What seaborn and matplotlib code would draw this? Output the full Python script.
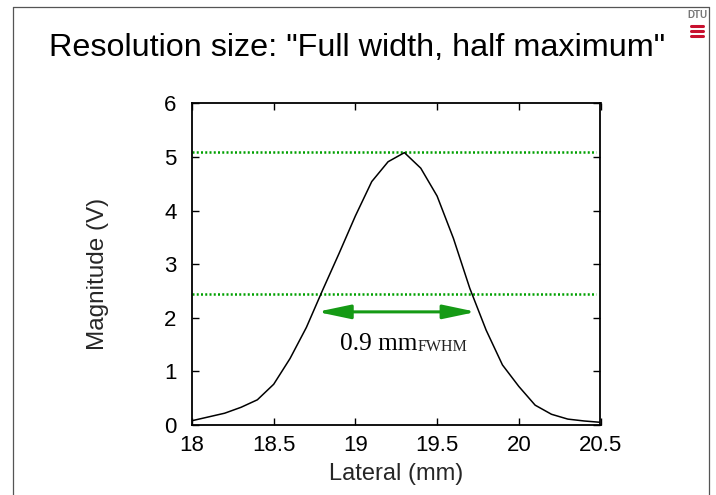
import numpy as np
import pandas as pd
import matplotlib
matplotlib.use("Agg")
import matplotlib.pyplot as plt
from matplotlib.lines import Line2D
import seaborn as sns

# ---- data ----
lateral_mm = [18.0, 18.1, 18.2, 18.3, 18.4, 18.5, 18.6, 18.7, 18.8, 18.9,
              19.0, 19.1, 19.2, 19.3, 19.4, 19.5, 19.6, 19.7, 19.8, 19.9,
              20.0, 20.1, 20.2, 20.3, 20.4, 20.5]
magnitude_v = [0.08, 0.15, 0.22, 0.33, 0.47, 0.76, 1.24, 1.82, 2.52, 3.20,
               3.90, 4.54, 4.91, 5.08, 4.79, 4.27, 3.48, 2.55, 1.77, 1.12,
               0.72, 0.37, 0.20, 0.11, 0.075, 0.05]
max_level = 5.09
half_level = 2.45
fwhm_left = 18.765
fwhm_right = 19.74
arrow_level = 2.11
x_ticks = [18, 18.5, 19, 19.5, 20, 20.5]
x_tick_labels = ["18", "18.5", "19", "19.5", "20", "20.5"]
y_ticks = [0, 1, 2, 3, 4, 5, 6]

df = pd.DataFrame({"Lateral (mm)": lateral_mm, "Magnitude (V)": magnitude_v})

sns.set_theme(style="ticks")
plt.rcParams["font.family"] = ["Liberation Sans", "DejaVu Sans"]

fig = plt.figure(figsize=(7.16, 4.95), dpi=100)
fig.patch.set_facecolor("white")
ax = fig.add_axes([192/716, 1-425/495, (600.5-192)/716, (425-103.3)/495])
ax.set_facecolor("white")

sns.lineplot(data=df, x="Lateral (mm)", y="Magnitude (V)", ax=ax,
             color="black", linewidth=1.1, zorder=3)

green_dot = "#00a000"
ax.plot([18.0, 20.47], [max_level, max_level], color=green_dot, lw=1.8,
        linestyle=(0, (0.8, 0.9)), zorder=2)
ax.plot([18.0, 20.47], [half_level, half_level], color=green_dot, lw=1.8,
        linestyle=(0, (0.8, 0.9)), zorder=2)

ax.annotate("", xy=(fwhm_left, arrow_level), xytext=(fwhm_right, arrow_level),
            arrowprops=dict(arrowstyle="<|-|>,head_length=2.0,head_width=0.42",
                            color="#159a15", lw=2.2, mutation_scale=10,
                            shrinkA=0, shrinkB=0), zorder=4)

t1 = ax.text(18.905, 1.40, "0.9 mm", fontsize=18.3, family=["Liberation Serif"],
             ha="left", va="baseline", color="black")
ax.annotate("FWHM", xy=(1, 0), xycoords=t1, fontsize=11.5,
            family=["Liberation Serif"], ha="left", va="bottom", color="#222222")

ax.set_xlim(18, 20.5)
ax.set_ylim(0, 6)
ax.set_xticks(x_ticks)
ax.set_xticklabels(x_tick_labels)
ax.set_yticks(y_ticks)
ax.tick_params(direction="in", length=5, width=1.0, top=True, right=True,
               labelsize=16, colors="black")
ax.tick_params(axis="x", pad=7)
ax.tick_params(axis="y", pad=11)
for s in ax.spines.values():
    s.set_linewidth(1.3)
    s.set_color("black")
    s.set_visible(True)
ax.set_xlabel("Lateral (mm)", fontsize=17, va="center")
ax.set_ylabel("Magnitude (V)", fontsize=17.5, va="center")
ax.xaxis.set_label_coords(0.5, -0.152)
ax.yaxis.set_label_coords(-0.230, 0.47)

fig.text(357/716, 1-48/495, 'Resolution size: "Full width, half maximum"',
         fontsize=23.3, ha="center", va="center", color="black")

# slide frame
fc = "#555555"
fig.add_artist(Line2D([13/716, 13/716], [0, 1-7/495], color=fc, lw=0.9,
                      transform=fig.transFigure))
fig.add_artist(Line2D([13/716, 709/716], [1-7/495, 1-7/495], color=fc, lw=0.9,
                      transform=fig.transFigure))
fig.add_artist(Line2D([709/716, 709/716], [0, 1-7/495], color=fc, lw=0.9,
                      transform=fig.transFigure))

# DTU logo
fig.text(697/716, 1-15/495, "DTU", fontsize=7, ha="center", va="center",
         color="#777777", fontweight="bold")
for yy in (26, 31, 36):
    fig.add_artist(Line2D([691/716, 703/716], [1-yy/495, 1-yy/495],
                          color="#c8102e", lw=2.2, transform=fig.transFigure,
                          solid_capstyle="round"))

fig.savefig("out.png", dpi=100, facecolor="white")
